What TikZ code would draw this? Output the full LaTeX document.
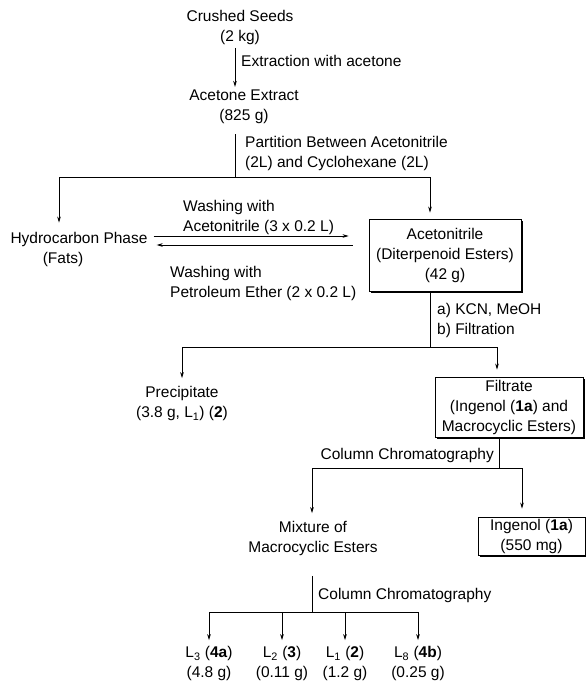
\documentclass[tikz,border=0pt]{standalone}
\usepackage{fontspec}
\setmainfont{Liberation Sans}
\usetikzlibrary{arrows.meta,shadows}

\tikzset{
  lbl/.style={font=\fontsize{15.5}{20}\selectfont, inner sep=0pt, align=center},
  note/.style={lbl, align=left, anchor=west},
  pbox/.style={lbl, draw, line width=0.8pt, fill=white,
    drop shadow={shadow xshift=1.8pt, shadow yshift=-1.8pt, opacity=1, fill=black}},
  flow/.style={line width=0.7pt, -{Stealth[length=6pt,width=3.6pt]}},
  link/.style={line width=0.7pt},
}

\begin{document}
\begin{tikzpicture}[x=1pt,y=-1pt]
\useasboundingbox (0,0) rectangle (586,683);
% extraction
\node[lbl] (seeds) at (240,27.5) {Crushed Seeds\\(2 kg)};
\node[lbl] (extract) at (244,107) {Acetone Extract\\(825 g)};
\draw[flow, shorten <=3pt, shorten >=3pt] ([xshift=-5pt]seeds.south) -- ([xshift=-5pt]seeds.south |- extract.north);
\node[note] (extlbl) at (241,61) {Extraction with acetone};

% partition
\coordinate (p1) at (235,177);
\coordinate (sL) at (59,177);
\coordinate (sR) at (430,177);
\draw[link, shorten <=10pt] (extract.south -| p1) -- (p1);
\node[note] (partlbl) at (245,153.5) {Partition Between Acetonitrile\\(2L) and Cyclohexane (2L)};
\node[lbl] (hc) at (79,249) {Hydrocarbon Phase\\(Fats)\hspace*{32pt}};
\node[pbox, minimum width=152, minimum height=72] (acet) at (445,255) {Acetonitrile\\(Diterpenoid Esters)\\(42 g)};
\draw[link] (sL) -- (sR);
\draw[flow, shorten >=9pt] (sL) -- (sL |- hc.north);
\draw[flow, shorten >=6pt] (sR) -- (sR |- acet.north);

% washings
\draw[flow, shorten <=6pt, shorten >=20pt] ([yshift=13pt]hc.east) -- ([yshift=13pt]hc.east -| acet.west);
\draw[flow, shorten <=16pt, shorten >=9pt] ([yshift=4pt]hc.east -| acet.west) -- ([yshift=4pt]hc.east);
\node[note] (wash1) at (183,217) {Washing with\\Acetonitrile (3 x 0.2 L)};
\node[note] (wash2) at (170,283) {Washing with\\Petroleum Ether (2 x 0.2 L)};

% KCN treatment
\coordinate (p2) at (430,347);
\coordinate (qL) at (182,347);
\coordinate (qR) at (497,347);
\draw[link] (acet.south -| p2) -- (p2);
\node[note] (kcnlbl) at (437,320) {a) KCN, MeOH\\b) Filtration};
\node[lbl] (prec) at (182,403.5) {Precipitate\\(3.8 g, L\textsubscript{1}) (\textbf{2})};
\node[pbox, minimum width=148, minimum height=60] (filt) at (509,407) {Filtrate\\(Ingenol (\textbf{1a}) and\\Macrocyclic Esters)};
\draw[link] (qL) -- (qR);
\draw[flow, shorten >=8pt] (qL) -- (qL |- prec.north);
\draw[flow, shorten >=7pt] (qR) -- (qR |- filt.north);

% first column
\coordinate (r1) at (499,468);
\coordinate (rL) at (312,468);
\coordinate (rR) at (522,468);
\draw[link] (filt.south -| r1) -- (r1);
\node[lbl, anchor=east] (cc1) at (494,455) {Column Chromatography};
\node[lbl] (mix) at (313,538.5) {Mixture of\\Macrocyclic Esters};
\node[pbox, minimum width=107, minimum height=38] (ing) at (531.5,536) {Ingenol (\textbf{1a})\\(550 mg)};
\draw[link] (rL) -- (rR);
\draw[flow, shorten >=8pt] (rL) -- (rL |- mix.north);
\draw[flow, shorten >=8pt] (rR) -- (rR |- ing.north);

% second column
\coordinate (t1) at (312,612);
\coordinate (uL) at (209,612);
\coordinate (uR) at (418,612);
\draw[link, shorten <=20pt] (mix.south -| t1) -- (t1);
\node[note] (cc2) at (318,595) {Column Chromatography};
\node[lbl] (l3) at (209,663.5) {L\textsubscript{3} (\textbf{4a})\\(4.8 g)};
\node[lbl] (l2) at (282,663.5) {L\textsubscript{2} (\textbf{3})\\(0.11 g)};
\node[lbl] (l1) at (345,663.5) {L\textsubscript{1} (\textbf{2})\\(1.2 g)};
\node[lbl] (l8) at (418,663.5) {L\textsubscript{8} (\textbf{4b})\\(0.25 g)};
\draw[link] (uL) -- (uR);
\draw[flow, shorten >=6pt] (uL) -- (l3.north);
\draw[flow, shorten >=6pt] (l2.north |- uL) -- (l2.north);
\draw[flow, shorten >=6pt] (l1.north |- uL) -- (l1.north);
\draw[flow, shorten >=6pt] (uR) -- (l8.north);
\end{tikzpicture}
\end{document}
